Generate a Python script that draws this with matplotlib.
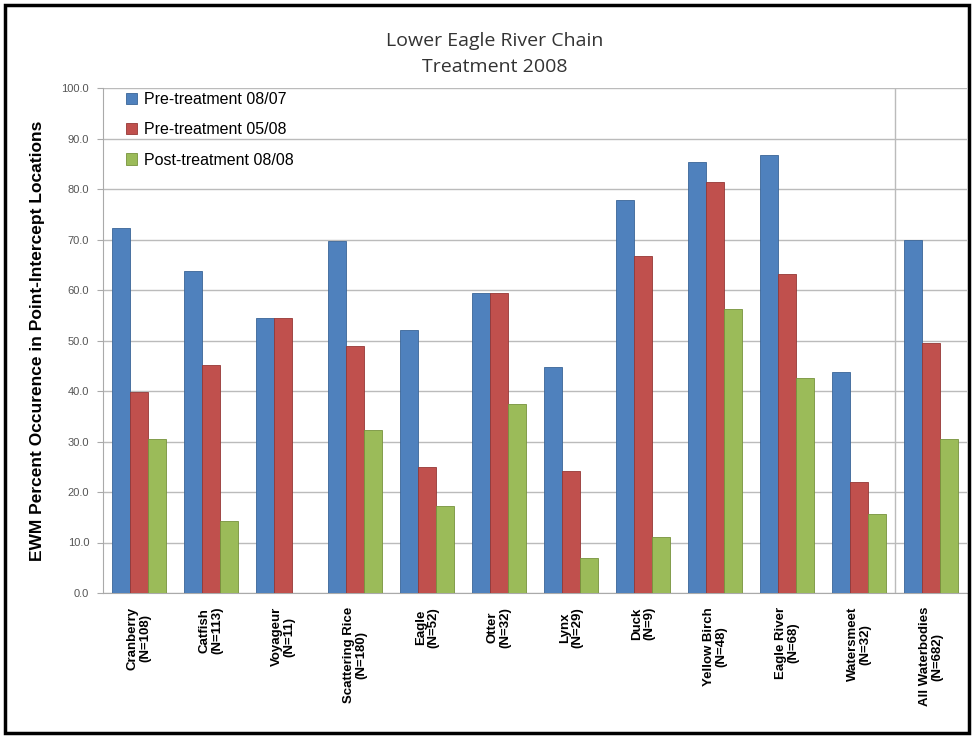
import numpy as np
import matplotlib.pyplot as plt
from matplotlib.patches import Rectangle

lakes = ["Cranberry\n(N=108)", "Catfish\n(N=113)", "Voyageur\n(N=11)", "Scattering Rice\n(N=180)",
         "Eagle\n(N=52)", "Otter\n(N=32)", "Lynx\n(N=29)", "Duck\n(N=9)", "Yellow Birch\n(N=48)",
         "Eagle River\n(N=68)", "Watersmeet\n(N=32)", "All Waterbodies\n(N=682)"]
pre_0807 = [72.2, 63.7, 54.5, 69.8, 52.0, 59.4, 44.8, 77.8, 85.4, 86.8, 43.8, 69.9]
pre_0508 = [39.8, 45.1, 54.5, 48.9, 25.0, 59.4, 24.1, 66.7, 81.3, 63.2, 21.9, 49.6]
post_0808 = [30.5, 14.2, 0.0, 32.2, 17.3, 37.5, 6.9, 11.1, 56.3, 42.6, 15.6, 30.4]
series_names = ["Pre-treatment 08/07", "Pre-treatment 05/08", "Post-treatment 08/08"]
colors = ["#4F81BD", "#C0504D", "#9BBB59"]
edges = ["#3A6597", "#953735", "#77933C"]

fig = plt.figure(figsize=(9.74, 7.36), dpi=100)
ax = fig.add_axes([103/974, 1-593/736, 864/974, 505/736])

x = np.arange(len(lakes))
w = 0.25
for i, vals in enumerate([pre_0807, pre_0508, post_0808]):
    ax.bar(x + (i-1)*w, vals, w, color=colors[i], edgecolor=edges[i], linewidth=0.6,
           label=series_names[i], zorder=3)

ax.set_xlim(-0.5, len(lakes)-0.5)
ax.set_ylim(0, 100)
ax.set_yticks(np.arange(0, 101, 10))
ax.set_yticklabels([f"{v:.1f}" for v in range(0, 101, 10)], fontsize=8, color="#555555",
                   family="Liberation Sans")
ax.yaxis.grid(True, color="#BBBBBB", linewidth=1.0, zorder=0)
ax.axvline(len(lakes)-1.5, color="#BBBBBB", linewidth=1.0, zorder=1)

ax.set_xticks(x)
ax.set_xticklabels(lakes, rotation=90, fontsize=9.5, fontweight="bold", family="Liberation Sans",
                   va="top", ha="center", multialignment="center", linespacing=1.05)
ax.tick_params(axis="x", length=0, pad=10)
ax.tick_params(axis="y", length=4, color="#AAAAAA", pad=6)
for s in ["top", "right"]:
    ax.spines[s].set_visible(False)
ax.spines["left"].set_color("#AAAAAA")
ax.spines["bottom"].set_color("#AAAAAA")

ax.set_ylabel("EWM Percent Occurence in Point-Intercept Locations", fontsize=12.5,
              fontweight="bold", family="Liberation Sans", labelpad=12)

leg = ax.legend(loc="upper left", bbox_to_anchor=(0.01, 1.02), frameon=False,
                prop={"family": "Liberation Sans", "size": 11.5},
                handlelength=0.7, handleheight=0.7, handletextpad=0.4, labelspacing=0.95)

fig.text(0.508, 1-41/736, "Lower Eagle River Chain", ha="center", va="center",
         fontsize=14, family="Open Sans", color="#333333")
fig.text(0.508, 1-67/736, "Treatment 2008", ha="center", va="center",
         fontsize=14, family="Open Sans", color="#333333")

fig.patches.append(Rectangle((5/974, 3/736), 964/974, 728/736, transform=fig.transFigure,
                             fill=False, edgecolor="black", linewidth=2.5))

fig.savefig("out.png", dpi=100)
